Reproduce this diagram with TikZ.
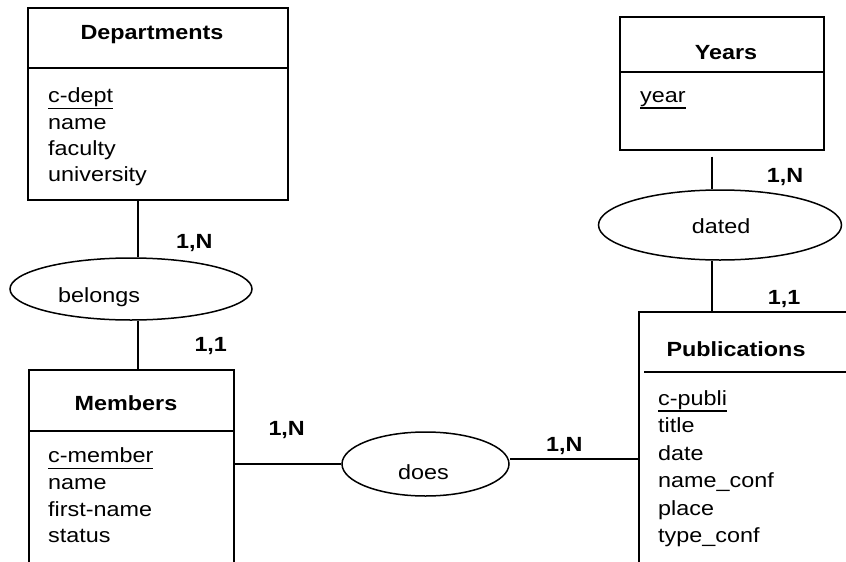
\documentclass[tikz,border=0pt]{standalone}
\usepackage{fontspec}
\setmainfont{Liberation Sans}[FakeStretch=1.14]
\usepackage{tikz}
\usetikzlibrary{shapes.geometric}
\newcommand{\erfont}{\fontsize{20.5}{24.6}\selectfont}
\newcommand{\keyattr}[1]{\setbox0\hbox{#1}\rlap{\vrule width\wd0 height -5pt depth 6.6pt}\box0}
\tikzset{
	entity/.style={rectangle, draw=black, line width=1.6pt, anchor=north west, inner sep=0pt},
	relation/.style={ellipse, draw=black, line width=1.5pt, inner sep=0pt},
	link/.style={line width=1.6pt},
	title/.style={font=\erfont\bfseries, anchor=base, inner sep=0pt},
	attr/.style={font=\erfont, anchor=base west, inner sep=0pt},
	card/.style={font=\erfont\bfseries, anchor=base west, inner sep=0pt}
}

\begin{document}
\begin{tikzpicture}[x=1pt, y=-1pt]
\useasboundingbox (0,0) rectangle (846,562);
\clip (0,0) rectangle (846,562);
% entities
\node [entity, minimum width=260pt, minimum height=192pt] (dept) at (27,7) {};
\node [entity, minimum width=204pt, minimum height=133pt] (years) at (619,16) {};
\node [entity, minimum width=205pt, minimum height=250pt] (members) at (28,369) {};
\node [entity, minimum width=260pt, minimum height=300pt] (publi) at (638,311) {};
\draw [link] ([yshift=-61pt]dept.north west) -- ([yshift=-61pt]dept.north east);
\draw [link] ([yshift=-56pt]years.north west) -- ([yshift=-56pt]years.north east);
\draw [link] ([yshift=-62pt]members.north west) -- ([yshift=-62pt]members.north east);
\draw [link] ([xshift=6pt,yshift=-61pt]publi.north west) -- ([yshift=-61pt]publi.north east);
\node [title] (dept-t) at (152,39.5) {Departments};
\node [title] (years-t) at (726,59.5) {Years};
\node [title] (members-t) at (126,410) {Members};
\node [title] (publi-t) at (736,356.5) {Publications};
\foreach \a [count=\i from 0] in {\keyattr{c-dept},name,faculty,university}
	\node [attr] (dept-a\i) at (48,{102.7+26.4*\i}) {\a};
\node [attr] (years-a0) at (640,102.4) {\keyattr{year}};
\foreach \a [count=\i from 0] in {\keyattr{c-member},name,first-name,status}
	\node [attr] (members-a\i) at (48,{462.7+26.67*\i}) {\a};
\foreach \a [count=\i from 0] in {\keyattr{c-publi},title,date,name\_conf,place,type\_conf}
	\node [attr] (publi-a\i) at (658,{405+27.5*\i}) {\a};
% relationships
\node [relation, minimum width=242pt, minimum height=62pt] (belongs) at (131,289) {};
\node [relation, minimum width=243pt, minimum height=70pt] (dated) at (720,225) {};
\node [relation, minimum width=167pt, minimum height=64pt] (does) at (425.5,464) {};
\node [attr] (belongs-t) at (58,302.7) {belongs};
\node [attr] (dated-t) at (691.7,233.3) {dated};
\node [attr] (does-t) at (398,479) {does};
% links
\coordinate (lkA) at (138,0);
\coordinate (lkB) at (712,0);
\draw [link] (lkA |- dept.south) -- (lkA |- belongs.north);
\draw [link] (lkA |- belongs.south) -- (lkA |- members.north);
\draw [link] (members.east |- does.west) -- (does.west);
\draw [link] ([yshift=5pt]does.east) -- ([yshift=5pt]does.east -| publi.west);
\draw [link, shorten <=6pt] (lkB |- years.south) -- (lkB |- dated.north);
\draw [link] (lkB |- dated.south) -- (lkB |- publi.north);
% cardinalities
\node [card] (c1) at (176,248.3) {1,N};
\node [card] (c2) at (194.3,351.7) {1,1};
\node [card] (c3) at (268.3,435.7) {1,N};
\node [card] (c4) at (546,451.7) {1,N};
\node [card] (c5) at (766.7,182.7) {1,N};
\node [card] (c6) at (767.7,304) {1,1};
\end{tikzpicture}
\end{document}
